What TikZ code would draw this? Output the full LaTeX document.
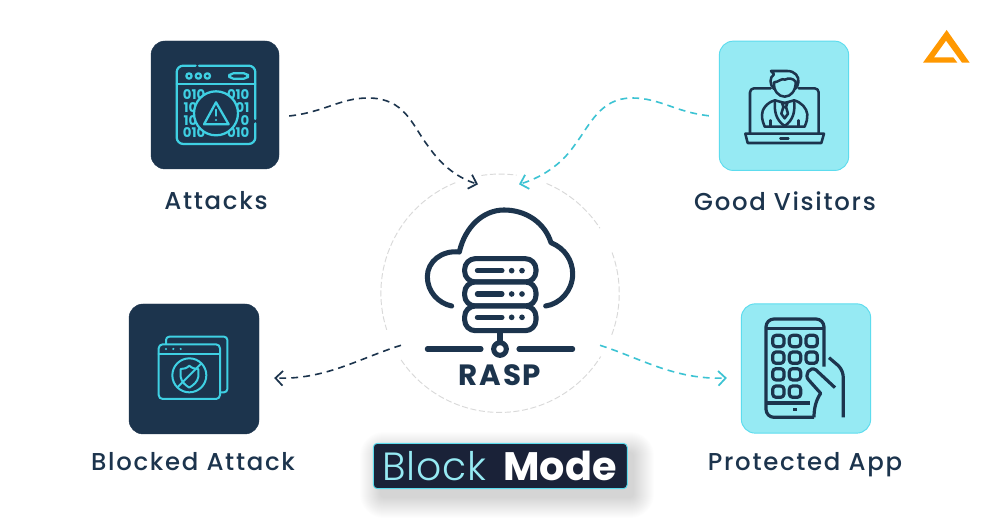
\documentclass[tikz,border=0pt]{standalone}
\usepackage{fontspec}
\usetikzlibrary{arrows.meta,calc}
\setmainfont{Poppins}
\newfontfamily\labelfont[LetterSpace=7]{Poppins Medium}
\newfontfamily\lightfont[LetterSpace=2]{Poppins Light}
\newfontfamily\heavyfont{Poppins Bold}
\newfontfamily\raspfont[LetterSpace=6]{Poppins Bold}
\definecolor{navy}{HTML}{1C344D}
\definecolor{ink}{HTML}{1A2238}
\definecolor{aqua}{HTML}{3FD0E3}
\definecolor{pale}{HTML}{96EAF3}
\definecolor{paleedge}{HTML}{5DDCEE}
\definecolor{flowaqua}{HTML}{3CC3D3}
\definecolor{brand}{HTML}{FF9800}
\definecolor{iconring}{HTML}{D9D9D9}
\tikzset{
  darkcard/.style={draw=navy,fill=navy,rounded corners=10.5pt,minimum width=96pt,minimum height=96pt,inner sep=0pt,line width=.3pt},
  lightcard/.style={draw=paleedge,fill=pale,rounded corners=10.5pt,minimum width=97pt,minimum height=97pt,inner sep=0pt,line width=.7pt},
  caption/.style={font=\labelfont\fontsize{18.3}{20}\selectfont,text=navy,inner sep=0pt,anchor=base},
  navyflow/.style={draw=navy,line width=1.2pt,dash pattern=on 5.2pt off 3.8pt,-{Straight Barb[length=5.5pt,width=11pt,line width=1.3pt]}},
  aquaflow/.style={draw=flowaqua,line width=1.2pt,dash pattern=on 5.2pt off 3.8pt,-{Straight Barb[length=5.5pt,width=11pt,line width=1.3pt]}},
  ring/.style={draw=iconring,line width=.7pt,dash pattern=on 4.5pt off 2pt},
  lineicon/.style={draw=aqua,line width=1.7pt,line cap=round,line join=round},
  thinicon/.style={draw=aqua,line width=1.5pt,line cap=round,line join=round},
  navyicon/.style={draw=navy,line width=1.9pt,line cap=round,line join=round},
  phoneicon/.style={draw=navy,line width=2.4pt,line join=round},
  rasp/.style={draw=navy,line width=3.8pt,line cap=round,line join=round},
  bits/.style={font=\heavyfont\fontsize{10}{10}\selectfont,text=aqua,inner sep=0pt}
}
\begin{document}
\begin{tikzpicture}[x=0.75pt,y=-0.75pt]
\useasboundingbox (0,0) rectangle (1000,530);
\fill[white] (0,0) rectangle (1000,530);

% soft shadow under the mode banner
\foreach \g in {0,1,...,20}{
  \fill[black,opacity=0.009,rounded corners={(3+\g*0.75)*1pt}]
    ({373+7-\g},{443+9-\g}) rectangle ({627+7+\g},{489+9+\g});
}

% cards
\node[darkcard]  (attacks)   at (215,105)   {};
\node[lightcard] (visitors)  at (784,105.8) {};
\node[darkcard,minimum width=97.5pt,minimum height=97.5pt] (blocked) at (194,369) {};
\node[lightcard] (protected) at (806,368.5) {};

% central hub outline, broken where the flows pass
\node[circle,minimum size=178.5pt,inner sep=0pt] (hub) at (500,293.3) {};
\draw[ring] (hub.112) arc[start angle=-112,end angle=-198,radius=119];
\draw[ring] (hub.99)  arc[start angle=-99,end angle=-82,radius=119];
\draw[ring] (hub.67)  arc[start angle=-67,end angle=-33,radius=119];
\draw[ring] (hub.20)  arc[start angle=-20,end angle=21,radius=119];
\draw[ring] (hub.214) arc[start angle=-214,end angle=-328,radius=119];

% flow end points just inside the hub
\coordinate (attackIn)   at ($(hub)+(-22,-109)$);
\coordinate (visitorIn)  at ($(hub)+(19,-109)$);
\coordinate (blockOut)   at ($(hub)+(-99,52)$);
\coordinate (protectOut) at ($(hub)+(100,52)$);
\coordinate (blockEnd)   at ($(blocked.east)+(15,9)$);
\coordinate (protectEnd) at ($(protected.west)+(-14,9.5)$);

% flows
\draw[navyflow] ($(attacks.east)+(10,11)$) .. controls (325,112) and (340,98) .. (368,98)
   .. controls (405,98) and (412,125) .. (428,146) .. controls (442,166) and (458,178) .. (attackIn);
\draw[aquaflow] ($(visitors.west)+(-10,10)$) .. controls (675,112) and (660,98) .. (632,98)
   .. controls (600,98) and (590,125) .. (574,146) .. controls (560,166) and (540,178) .. (visitorIn);
\draw[navyflow] (blockOut) .. controls (360,358) and (325,380) .. (blockEnd);
\draw[aquaflow] (protectOut) .. controls (640,358) and (675,380) .. (protectEnd);

% attack window
\begin{scope}[shift={(130,25)},x=0.25pt,y=-0.25pt]
  \draw[lineicon,rounded corners=5pt] (197,122) -- (140,122) -- (140,357) -- (376,357) -- (376,295);
  \draw[lineicon,rounded corners=5pt] (376,282) -- (376,122) -- (207,122);
  \draw[lineicon] (140,178) -- (376,178);
  \foreach \dx in {177,205,232} \draw[lineicon] (\dx,153) circle[radius=8];
  \draw[lineicon,rounded corners=3pt] (298,145) rectangle (354,161);
  \node[bits,anchor=west] (bitsa) at (158,210) {010};
  \node[bits,anchor=west] (bitsb) at (160,248) {10};
  \node[bits,anchor=west] (bitsc) at (160,286) {10};
  \node[bits,anchor=west] (bitsd) at (158,323) {010};
  \node[bits,anchor=east] (bitse) at (359,210) {010};
  \node[bits,anchor=east] (bitsf) at (359,248) {01};
  \node[bits,anchor=east] (bitsg) at (359,286) {0};
  \node[bits,anchor=east] (bitsh) at (359,323) {010};
  \draw[lineicon,fill=navy] (258,265) circle[radius=66];
  \draw[lineicon] (258,232) -- (296,298) -- (222,298) -- cycle;
  \draw[lineicon] (258,254) -- (258,272);
  \fill[aqua] (258,285) circle[radius=3.5];
\end{scope}

% visitor on a laptop
\begin{scope}[shift={(700,25)},x=0.25pt,y=-0.25pt]
  \draw[navyicon,rounded corners=3pt] (212,190) -- (150,190) -- (150,325);
  \draw[navyicon,rounded corners=3pt] (296,190) -- (356,190) -- (356,325);
  \draw[navyicon] (136,326) -- (372,326) -- (364,354) -- (143,354) -- cycle;
  \draw[navyicon] (241,340) -- (265,340);
  \draw[navyicon] (222,192) .. controls (208,178) and (208,158) .. (222,148) -- (213,138) -- (262,138)
     .. controls (285,138) and (298,155) .. (295,172) .. controls (294,182) and (290,188) .. (285,192);
  \draw[navyicon] (222,172) .. controls (235,172) and (245,158) .. (255,164) .. controls (265,158) and (280,160) .. (287,170)
     .. controls (288,198) and (272,215) .. (254,215) .. controls (236,215) and (220,198) .. (222,172);
  \draw[navyicon] (225,226) .. controls (200,232) and (185,255) .. (186,270) .. controls (186,285) and (190,295) .. (194,305)
     -- (314,305) .. controls (320,290) and (323,280) .. (322,268) .. controls (320,250) and (305,232) .. (282,226);
  \draw[navyicon] (225,226) -- (254,234) -- (282,226);
  \draw[navyicon] (225,226) .. controls (222,260) and (228,285) .. (254,303) .. controls (280,285) and (286,260) .. (282,226);
  \draw[navyicon] (246,234) -- (262,234) -- (258,246) -- (250,246) -- cycle;
  \draw[navyicon] (250,246) -- (244,266) -- (254,280) -- (264,266) -- (258,246);
  \draw[navyicon] (212,286) -- (212,305);
  \draw[navyicon] (295,286) -- (295,305);
\end{scope}

% company mark
\begin{scope}[shift={(700,25)},x=0.25pt,y=-0.25pt]
  \fill[brand] (740,15) -- (809,113) -- (786,113) -- (738,47) -- (702,97) -- (760,97) -- (772,113) -- (669,113) -- cycle;
\end{scope}

% blocked windows
\begin{scope}[shift={(120,295)},x=0.25pt,y=-0.25pt]
  \draw[thinicon,rounded corners=2.5pt] (138,146) -- (138,125) -- (322,125) -- (322,292) -- (302,292);
  \draw[thinicon,rounded corners=3pt] (116,148) rectangle (300,312);
  \draw[thinicon] (116,176) -- (300,176);
  \foreach \dx in {138,160,182} \fill[aqua] (\dx,162) circle[radius=3.5];
  \draw[thinicon] (208,241) circle[radius=51];
  \draw[thinicon] (208,212) .. controls (200,220) and (192,222) .. (182,222) -- (182,245)
     .. controls (184,260) and (195,270) .. (208,278) .. controls (221,270) and (233,260) .. (235,245) -- (235,222)
     .. controls (225,222) and (216,220) .. (208,212);
  \draw[thinicon] (172,277) -- (244,205);
\end{scope}

% hand holding a phone
\begin{scope}[shift={(730,295)},x=0.25pt,y=-0.25pt]
  \draw[phoneicon,rounded corners=6pt] (252,367) -- (108,367) -- (108,72) -- (282,72) -- (282,215);
  \draw[phoneicon] (108,100) -- (282,100);
  \draw[phoneicon] (108,324) -- (240,324);
  \fill[navy] (190,339) rectangle (200,349);
  \foreach \cx/\cy in {145/138,195/138,245/138,145/188,195/188,245/188,145/238,195/238,145/290,195/290}
    \draw[phoneicon,rounded corners=2.5pt] (\cx-17,\cy-17) rectangle (\cx+17,\cy+17);
  \draw[phoneicon,fill=pale]
     (315,278) -- (258,225) .. controls (240,212) and (220,240) .. (237,256) -- (272,295)
     .. controls (258,315) and (252,340) .. (252,367);
  \draw[phoneicon] (297,188) -- (325,212) .. controls (335,222) and (340,235) .. (340,250) -- (340,367);
\end{scope}

% server stack inside the cloud
\begin{scope}[shift={(370,170)},x=0.25pt,y=-0.25pt]
  \draw[rasp] (245,408) .. controls (205,400) and (172,365) .. (172,320) .. controls (172,275) and (215,240) .. (268,246)
     .. controls (285,170) and (340,120) .. (402,120) .. controls (470,120) and (525,160) .. (543,218)
     .. controls (585,235) and (608,272) .. (608,312) .. controls (608,362) and (570,402) .. (527,408);
  \draw[rasp,rounded corners=8pt,fill=white] (284,266) rectangle (498,336);
  \draw[rasp,rounded corners=8pt,fill=white] (284,336) rectangle (498,408);
  \draw[rasp,rounded corners=8pt,fill=white] (284,408) rectangle (498,482);
  \foreach \ry in {302,372,442}{
    \draw[rasp] (322,\ry) -- (396,\ry);
    \fill[navy] (425,\ry) circle[radius=8.5];
    \fill[navy] (456,\ry) circle[radius=8.5];
  }
  \draw[rasp] (390,482) -- (390,515);
  \draw[rasp] (390,537) circle[radius=19];
  \draw[rasp] (172,537) -- (333,537);
  \draw[rasp] (447,537) -- (608,537);
\end{scope}

% captions
\node[caption] (attackscap)   at (216,210)   {Attacks};
\node[caption] (visitorscap)  at (785,211) {Good Visitors};
\node[caption] (blockedcap)   at (193,471)   {Blocked Attack};
\node[caption] (protectedcap) at (805,471)   {Protected App};
\node[font=\raspfont\fontsize{22}{24}\selectfont,text=navy,inner sep=0pt] (rasplabel) at (500,375) {RASP};

% mode banner
\node[draw=paleedge,fill=ink,rounded corners=3pt,line width=.7pt,minimum width=190.5pt,minimum height=34pt,inner sep=0pt] (banner) at (500.3,466) {};
\node[font=\lightfont\fontsize{29.5}{30}\selectfont,text=pale,inner sep=0pt,anchor=base west] (blockword) at (382,481) {Block};
\node[font=\heavyfont\fontsize{29.8}{30}\selectfont,text=white,inner sep=0pt,anchor=base east] (modeword) at (617,481) {Mode};
\end{tikzpicture}
\end{document}
